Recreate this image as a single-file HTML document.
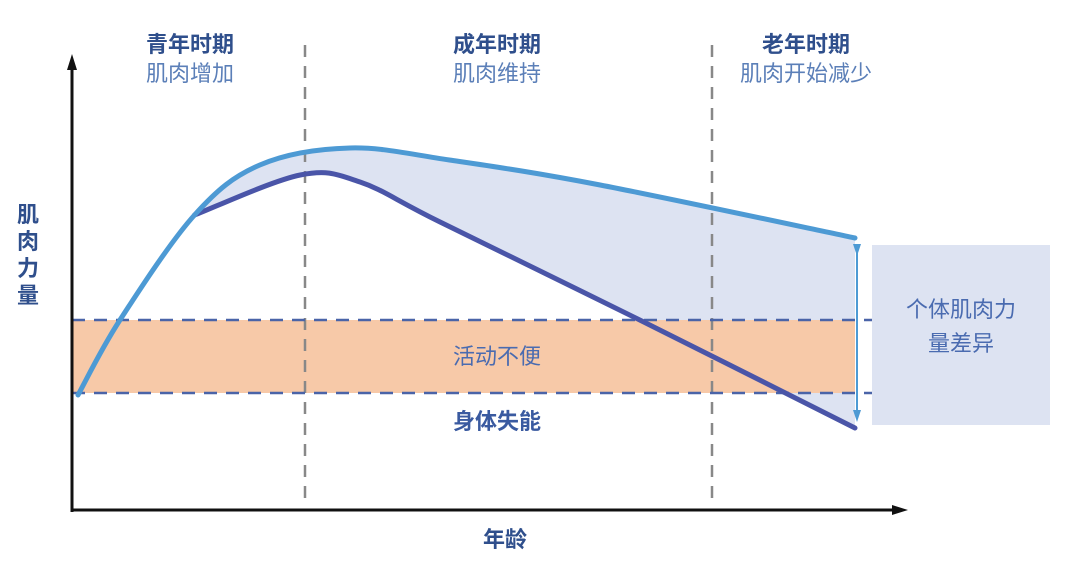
<!DOCTYPE html>
<html><head><meta charset="utf-8"><style>
html,body{margin:0;padding:0;background:#fff;}
svg{display:block;font-family:"Liberation Sans","Noto Sans CJK SC",sans-serif;}
</style></head><body>
<svg id="chart" width="1080" height="566" viewBox="0 0 1080 566">
<defs>
<marker id="ah" markerUnits="userSpaceOnUse" markerWidth="16" markerHeight="12" refX="8" refY="6" orient="auto"><path d="M0,1 L16,6 L0,11 z" fill="#111"/></marker>
<marker id="ab" markerUnits="userSpaceOnUse" markerWidth="12" markerHeight="10" refX="6" refY="5" orient="auto"><path d="M0,1 L12,5 L0,9 z" fill="#4d9ad4"/></marker>
</defs>
<g id="fills"></g>
<rect x="72" y="320" width="783" height="73" fill="#f7c9a8"/>
<rect x="872" y="245" width="178" height="180" fill="#dde3f2"/>
<line x1="305" y1="45" x2="305" y2="505" stroke="#888" stroke-width="2.5" stroke-dasharray="12,9"/>
<line x1="712" y1="45" x2="712" y2="505" stroke="#888" stroke-width="2.5" stroke-dasharray="12,9"/>
<line x1="72" y1="320" x2="872" y2="320" stroke="#4a64a8" stroke-width="2.5" stroke-dasharray="13,9"/>
<line x1="72" y1="393" x2="872" y2="393" stroke="#4a64a8" stroke-width="2.5" stroke-dasharray="13,9"/>
<g id="lines"></g>
<line x1="857" y1="250" x2="857" y2="416" stroke="#4d9ad4" stroke-width="2" marker-start="url(#ab)" marker-end="url(#ab)"/>
<line x1="72" y1="512" x2="72" y2="62" stroke="#111" stroke-width="3" marker-end="url(#ah)"/>
<line x1="71" y1="510" x2="900" y2="510" stroke="#111" stroke-width="3" marker-end="url(#ah)"/>
<g font-size="22" text-anchor="middle">
<text x="190" y="52" font-weight="bold" fill="#2f4f8c">青年时期</text>
<text x="190" y="81" fill="#5b7fb8">肌肉增加</text>
<text x="497" y="52" font-weight="bold" fill="#2f4f8c">成年时期</text>
<text x="497" y="81" fill="#5b7fb8">肌肉维持</text>
<text x="806" y="52" font-weight="bold" fill="#2f4f8c">老年时期</text>
<text x="806" y="81" fill="#5b7fb8">肌肉开始减少</text>
<text x="497" y="364" fill="#4a6bb0">活动不便</text>
<text x="497" y="429" font-weight="bold" fill="#3a5aa0">身体失能</text>
<text x="505" y="547" font-weight="bold" fill="#2f4f8c">年龄</text>
<text x="961" y="317" fill="#4a6bb0">个体肌肉力</text>
<text x="961" y="351" fill="#4a6bb0">量差异</text>
</g>
<g font-size="22" font-weight="bold" fill="#2f4f8c" text-anchor="middle">
<text x="28" y="222">肌</text><text x="28" y="249">肉</text><text x="28" y="276">力</text><text x="28" y="303">量</text>
</g>
</svg>
<script>
const upperAges=[0,5.4,15,23.4,35,47.8,67.2,100];
const upperValues=[28.75,47.5,73.75,86.25,90.5,87.5,81.25,68];
const lowerAges=[15,28.6,36.3,46.6,72.3,100];
const lowerValues=[73.75,83.75,82,72,47.5,20.5];
const sx=a=>78+a*7.77;
const sy=v=>510-v*4;
function pts(ag,vs){return ag.map((a,i)=>[sx(a),sy(vs[i])]);}
function curve(p,move){
  let d=(move?'M':'L')+p[0][0]+','+p[0][1];
  for(let i=0;i<p.length-1;i++){
    const p0=p[i-1]||p[i],p1=p[i],p2=p[i+1],p3=p[i+2]||p[i+1];
    const c1=[p1[0]+(p2[0]-p0[0])/6,p1[1]+(p2[1]-p0[1])/6];
    const c2=[p2[0]-(p3[0]-p1[0])/6,p2[1]-(p3[1]-p1[1])/6];
    d+=' C'+c1+' '+c2+' '+p2;
  }
  return d;
}
const up=pts(upperAges,upperValues), lo=pts(lowerAges,lowerValues);
const ns='http://www.w3.org/2000/svg';
const startIdx=upperAges.indexOf(lowerAges[0]);
const fill=document.createElementNS(ns,'path');
fill.setAttribute('d',curve(up.slice(startIdx>=0?startIdx:2),true)+' '+curve(lo.slice().reverse(),false)+' Z');
fill.setAttribute('fill','#dde3f2');


document.getElementById('fills').appendChild(fill);
const lp=document.createElementNS(ns,'path');
lp.setAttribute('d',curve(lo,true));
lp.setAttribute('fill','none');lp.setAttribute('stroke','#4a55a8');lp.setAttribute('stroke-width','5');lp.setAttribute('stroke-linecap','round');


document.getElementById('lines').appendChild(lp);
const upth=document.createElementNS(ns,'path');
upth.setAttribute('d',curve(up,true));
upth.setAttribute('fill','none');upth.setAttribute('stroke','#4d9ad4');upth.setAttribute('stroke-width','5');upth.setAttribute('stroke-linecap','round');


document.getElementById('lines').appendChild(upth);
</script>
</body></html>
